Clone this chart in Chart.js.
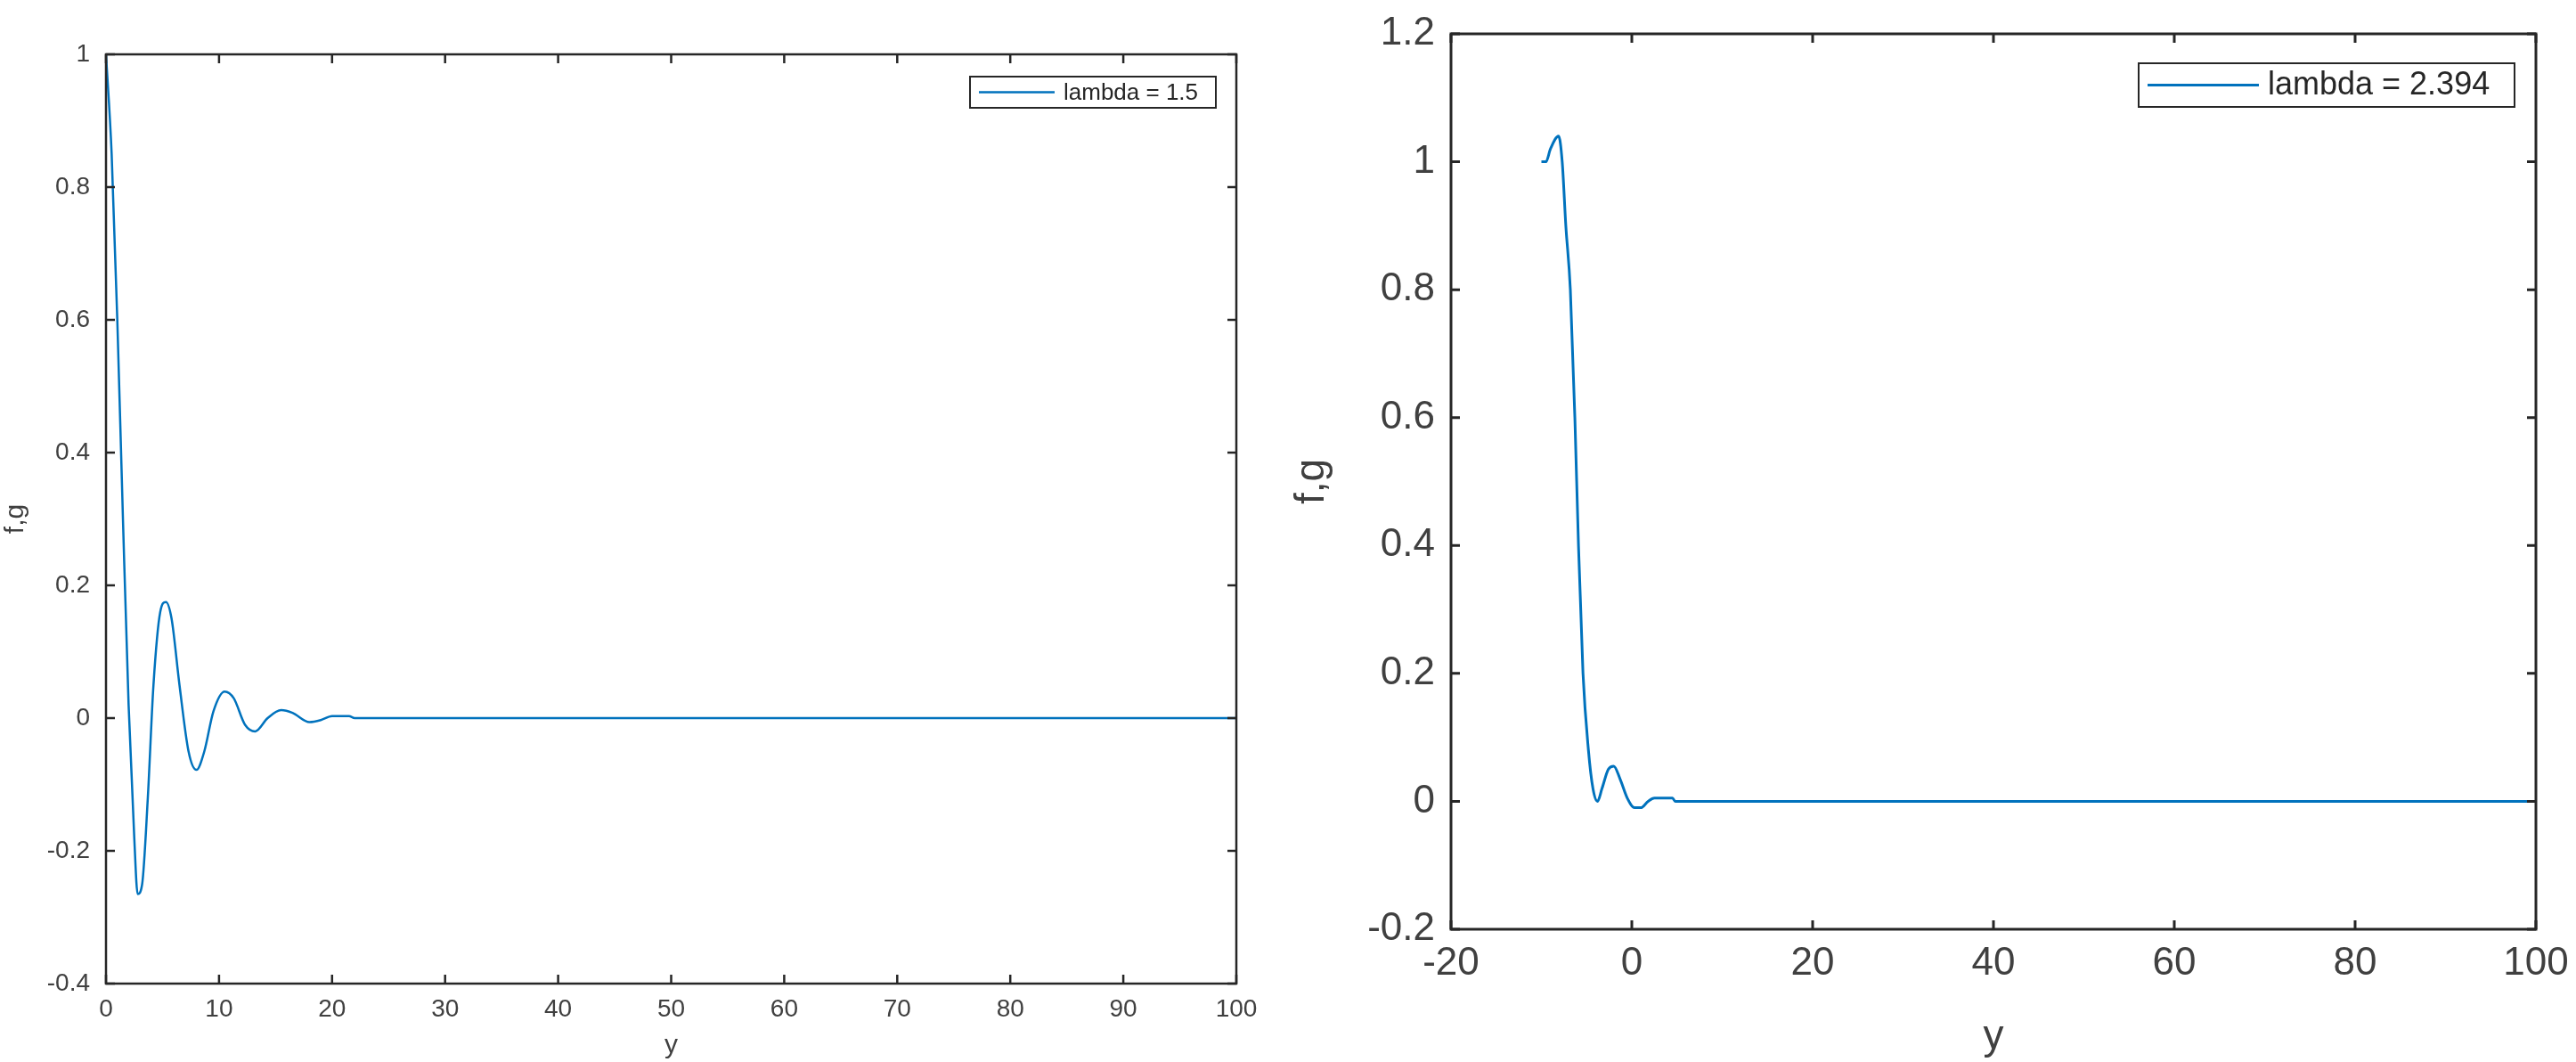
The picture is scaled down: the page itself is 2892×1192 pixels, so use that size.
<!DOCTYPE html>
<html>
<head>
<meta charset="utf-8">
<script src="https://cdn.jsdelivr.net/npm/chart.js@4/dist/chart.umd.min.js"></script>
<style>
  body { margin: 0; background: #fff; }
  .box { position: absolute; top: 0; width: 1446px; height: 1192px; }
</style>
</head>
<body>
<div class="box" style="left:0"><canvas id="left"></canvas></div>
<div class="box" style="left:1446px"><canvas id="right"></canvas></div>
<script>
// lambda = 1.5
var leftX = [0, 0.5, 1, 1.5, 2, 2.5, 2.8, 3.2, 3.7, 4.2, 4.8, 5.3, 5.8, 6.5, 7.3, 8, 8.7, 9.5, 10.5, 11.3, 12.3, 13.2, 14.3, 15.5, 16.5, 18, 19, 20, 21.5, 22, 100];
var leftY = [1, 0.85, 0.6, 0.3, 0.02, -0.18, -0.265, -0.25, -0.12, 0.05, 0.16, 0.175, 0.15, 0.05, -0.05, -0.078, -0.05, 0.01, 0.04, 0.03, -0.01, -0.02, 0, 0.012, 0.008, -0.006, -0.003, 0.003, 0.003, 0, 0];

// lambda = 2.394
var rightX = [-10, -9.5, -9, -8.1, -7.7, -7.3, -6.8, -6.3, -5.9, -5.4, -4.8, -4.3, -3.8, -3.3, -2.6, -2, -1.3, -0.5, 0.3, 1, 1.8, 2.5, 4.5, 4.8, 100];
var rightY = [1, 1, 1.02, 1.04, 1.0, 0.9, 0.8, 0.6, 0.4, 0.2, 0.08, 0.02, 0, 0.02, 0.05, 0.055, 0.035, 0.005, -0.01, -0.01, 0, 0.005, 0.005, 0, 0];

function pts(xs, ys) {
  return xs.map(function (x, i) { return { x: x, y: ys[i] }; });
}

// box, inward ticks and legend like matlab
var framePlugin = {
  id: "frame",
  afterDraw: function (chart) {
    var o = chart.options.plugins.frame;
    var ctx = chart.ctx, a = chart.chartArea;
    ctx.save();
    ctx.strokeStyle = "#262626";
    ctx.lineWidth = o.lw;
    ctx.strokeRect(a.left, a.top, a.right - a.left, a.bottom - a.top);
    var t = 10;
    ctx.beginPath();
    chart.scales.x.ticks.forEach(function (tk) {
      var px = chart.scales.x.getPixelForValue(tk.value);
      ctx.moveTo(px, a.bottom); ctx.lineTo(px, a.bottom - t);
      ctx.moveTo(px, a.top); ctx.lineTo(px, a.top + t);
    });
    chart.scales.y.ticks.forEach(function (tk) {
      var py = chart.scales.y.getPixelForValue(tk.value);
      ctx.moveTo(a.left, py); ctx.lineTo(a.left + t, py);
      ctx.moveTo(a.right, py); ctx.lineTo(a.right - t, py);
    });
    ctx.stroke();
    // legend
    var L = o.legend;
    ctx.fillStyle = "#fff";
    ctx.fillRect(L.x, L.y, L.w, L.h);
    ctx.lineWidth = 2;
    ctx.strokeRect(L.x, L.y, L.w, L.h);
    ctx.strokeStyle = "#0072BD";
    ctx.lineWidth = o.lw;
    ctx.beginPath();
    ctx.moveTo(L.x + 10, L.y + L.h / 2);
    ctx.lineTo(L.x + L.line, L.y + L.h / 2);
    ctx.stroke();
    ctx.fillStyle = "#262626";
    ctx.font = L.font + "px 'Liberation Sans', Arial, sans-serif";
    ctx.textBaseline = "middle";
    ctx.fillText(chart.data.datasets[0].label, L.x + L.line + 10, L.y + L.h / 2 + 1);
    ctx.restore();
  }
};

function makeChart(id, label, data, cfg) {
  var font = "'Liberation Sans', Arial, sans-serif";
  return new Chart(document.getElementById(id), {
    type: "line",
    data: {
      datasets: [{
        label: label,
        data: data,
        borderColor: "#0072BD",
        borderWidth: cfg.lw,
        pointRadius: 0,
        cubicInterpolationMode: "monotone",
        fill: false
      }]
    },
    options: {
      responsive: true,
      maintainAspectRatio: false,
      animation: false,
      layout: { padding: { top: cfg.top, right: cfg.right, left: 0, bottom: 0 } },
      plugins: {
        legend: { display: false },
        tooltip: { enabled: false },
        frame: { lw: cfg.lw, legend: cfg.legend }
      },
      scales: {
        x: {
          type: "linear",
          min: cfg.xmin, max: 100,
          ticks: { stepSize: cfg.xstep, color: "#404040", font: { family: font, size: cfg.tick }, padding: 4, maxRotation: 0 },
          grid: { display: false },
          border: { display: false },
          title: { display: true, text: "y", color: "#404040", font: { family: font, size: cfg.title }, padding: 0 },
          afterFit: function (s) { s.height = cfg.xh; }
        },
        y: {
          min: cfg.ymin, max: cfg.ymax,
          ticks: { stepSize: 0.2, color: "#404040", font: { family: font, size: cfg.tick }, padding: 10,
                   callback: function (v) { return Math.round(v * 10) / 10; } },
          grid: { display: false },
          border: { display: false },
          title: { display: true, text: "f,g", color: "#404040", font: { family: font, size: cfg.title }, padding: 0 },
          afterFit: function (s) { s.width = cfg.yw; }
        }
      }
    },
    plugins: [framePlugin]
  });
}

makeChart("left", "lambda = 1.5", pts(leftX, leftY), {
  lw: 2.5, top: 61, right: 58, xh: 88, yw: 119, xmin: 0, xstep: 10,
  ymin: -0.4, ymax: 1, tick: 28, title: 30,
  legend: { x: 1089, y: 86, w: 276, h: 35, line: 95, font: 26 }
});

makeChart("right", "lambda = 2.394", pts(rightX, rightY), {
  lw: 3, top: 38, right: 45, xh: 149, yw: 183, xmin: -20, xstep: 20,
  ymin: -0.2, ymax: 1.2, tick: 44, title: 46,
  legend: { x: 955, y: 71, w: 422, h: 49, line: 135, font: 36 }
});
</script>
</body>
</html>
